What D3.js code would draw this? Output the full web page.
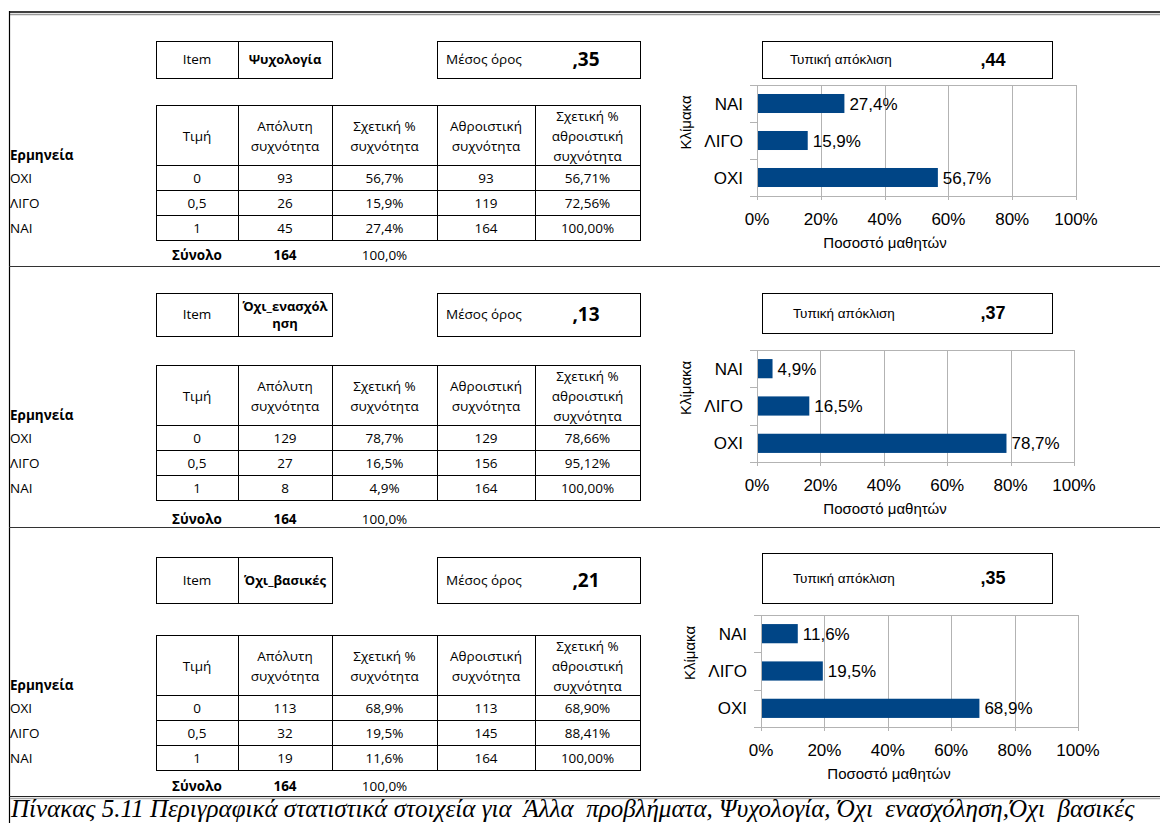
<!DOCTYPE html>
<html>
<head>
<meta charset="utf-8">
<script src="https://cdn.jsdelivr.net/npm/d3@7"></script>
<style>
  html, body { margin: 0; padding: 0; background: #fff; }
  svg { display: block; }
  .tbl { font-family: "Open Sans", "Noto Sans", sans-serif; font-size: 13.5px; fill: #000; }
  .chart { font-family: "Liberation Sans", Arial, sans-serif; fill: #000; }
</style>
</head>
<body>
<script>
// ---- data ----
const categories = ["ΟΧΙ", "ΛΙΓΟ", "ΝΑΙ"];
const scoreLabels = ["0", "0,5", "1"];
const items = ["Ψυχολογία", "Όχι_ενασχόληση", "Όχι_βασικές"];
const means = [",35", ",13", ",21"];
const stdDevs = [",44", ",37", ",35"];
const absFreq = [[93, 26, 45], [129, 27, 8], [113, 32, 19]];
const relPct = [[56.7, 15.9, 27.4], [78.7, 16.5, 4.9], [68.9, 19.5, 11.6]];
const cumFreq = [[93, 119, 164], [129, 156, 164], [113, 145, 164]];
const cumPct = [["56,71%", "72,56%", "100,00%"], ["78,66%", "95,12%", "100,00%"], ["68,90%", "88,41%", "100,00%"]];
const totals = [164, 164, 164];
const totalPct = ["100,0%", "100,0%", "100,0%"];
const headers = [["Τιμή"], ["Απόλυτη", "συχνότητα"], ["Σχετική %", "συχνότητα"], ["Αθροιστική", "συχνότητα"], ["Σχετική %", "αθροιστική", "συχνότητα"]];
const xTicks = [0, 0.2, 0.4, 0.6, 0.8, 1.0];
const caption = "Πίνακας 5.11 Περιγραφικά στατιστικά στοιχεία για  Άλλα  προβλήματα, Ψυχολογία, Όχι  ενασχόληση,Όχι  βασικές";

// ---- layout ----
const W = 1160, H = 823;
const cols = [156, 238, 332, 437, 535, 640];
const sections = [
  { boxY: 41, boxH: 37, sdY: 41, sdH: 37, sdTextX: 790, tableY: 105, hdrH: 60, rowH: 25, totalY: 255,
    plot: { x0: 757, x1: 1076, y0: 85, y1: 196 } },
  { boxY: 293, boxH: 43, sdY: 293, sdH: 40, sdTextX: 793, tableY: 365, hdrH: 60, rowH: 25, totalY: 519,
    plot: { x0: 757, x1: 1074, y0: 350, y1: 462 } },
  { boxY: 557, boxH: 46, sdY: 553, sdH: 50, sdTextX: 793, tableY: 635, hdrH: 60, rowH: 25, totalY: 786,
    plot: { x0: 761, x1: 1078, y0: 615, y1: 727 } }
];
const barColor = "#004586";
const gridColor = "#b3b3b3";

const svg = d3.select("body").append("svg").attr("width", W).attr("height", H);

// page frame
svg.append("line").attr("x1", 9).attr("x2", W).attr("y1", 12).attr("y2", 12).attr("stroke", "#000").attr("stroke-width", 1.5);
svg.append("line").attr("x1", 10).attr("x2", W).attr("y1", 14.5).attr("y2", 14.5).attr("stroke", "#999").attr("stroke-width", 1.5);
svg.append("line").attr("x1", 9.5).attr("x2", 9.5).attr("y1", 11).attr("y2", H).attr("stroke", "#000").attr("stroke-width", 1.2);
[266, 527].forEach(y => {
  svg.append("line").attr("x1", 9).attr("x2", W).attr("y1", y + 0.5).attr("y2", y + 0.5).attr("stroke", "#333").attr("stroke-width", 1);
});
svg.append("line").attr("x1", 9).attr("x2", W).attr("y1", 796.5).attr("y2", 796.5).attr("stroke", "#222").attr("stroke-width", 1);
svg.append("line").attr("x1", 10).attr("x2", W).attr("y1", 798.5).attr("y2", 798.5).attr("stroke", "#aaa").attr("stroke-width", 1.5);

function rect(g, x, y, w, h) {
  g.append("rect").attr("x", x + 0.5).attr("y", y + 0.5).attr("width", w).attr("height", h)
    .attr("fill", "none").attr("stroke", "#000").attr("stroke-width", 1);
}

// bold text wrapped by character inside a fixed width
function wrapText(g, str, cx, cy, maxW, lineH) {
  const t = g.append("text").attr("class", "tbl").attr("text-anchor", "middle")
    .attr("font-weight", "bold").style("font-size", "13px");
  const probe = t.append("tspan").text("");
  const lines = [];
  let cur = "";
  for (const ch of str) {
    probe.text(cur + ch);
    if (probe.node().getComputedTextLength() > maxW && cur.length) { lines.push(cur); cur = ch; }
    else cur += ch;
  }
  lines.push(cur);
  probe.remove();
  const y0 = cy - (lines.length - 1) * lineH / 2;
  lines.forEach((l, i) => t.append("tspan").attr("x", cx).attr("y", y0 + i * lineH).attr("dy", "0.35em").text(l));
}

sections.forEach((s, si) => {
  const g = svg.append("g");

  // Item box
  rect(g, cols[0], s.boxY, cols[2] - cols[0], s.boxH);
  g.append("line").attr("x1", cols[1] + 0.5).attr("x2", cols[1] + 0.5).attr("y1", s.boxY).attr("y2", s.boxY + s.boxH).attr("stroke", "#000");
  g.append("text").attr("class", "tbl").attr("x", (cols[0] + cols[1]) / 2).attr("y", s.boxY + s.boxH / 2).attr("dy", "0.35em")
    .attr("text-anchor", "middle").text("Item");
  wrapText(g, items[si], (cols[1] + cols[2]) / 2, s.boxY + s.boxH / 2, cols[2] - cols[1] - 2, 17);

  // mean box
  rect(g, cols[3], s.boxY, cols[5] - cols[3], s.boxH);
  g.append("text").attr("class", "tbl").attr("x", cols[3] + 9).attr("y", s.boxY + s.boxH / 2).attr("dy", "0.35em").text("Μέσος όρος");
  g.append("text").attr("class", "tbl").attr("x", 586).attr("y", s.boxY + s.boxH / 2).attr("dy", "0.35em")
    .attr("text-anchor", "middle").attr("font-weight", "bold").style("font-size", "19px").text(means[si]);

  // std box
  rect(g, 762, s.sdY, 290, s.sdH);
  g.append("text").attr("class", "chart").attr("x", s.sdTextX).attr("y", s.sdY + s.sdH / 2).attr("dy", "0.35em")
    .style("font-size", "13.5px").text("Τυπική απόκλιση");
  g.append("text").attr("class", "chart").attr("x", 993).attr("y", s.sdY + s.sdH / 2).attr("dy", "0.35em")
    .attr("text-anchor", "middle").attr("font-weight", "bold").style("font-size", "18px").text(stdDevs[si]);

  // frequency table
  const tY = s.tableY, hH = s.hdrH, rH = s.rowH;
  const tBottom = tY + hH + 3 * rH;
  rect(g, cols[0], tY, cols[5] - cols[0], tBottom - tY);
  cols.slice(1, 5).forEach(x => g.append("line").attr("x1", x + 0.5).attr("x2", x + 0.5).attr("y1", tY).attr("y2", tBottom).attr("stroke", "#000"));
  [tY + hH, tY + hH + rH, tY + hH + 2 * rH].forEach(y =>
    g.append("line").attr("x1", cols[0]).attr("x2", cols[5]).attr("y1", y + 0.5).attr("y2", y + 0.5).attr("stroke", "#000"));

  headers.forEach((lines, ci) => {
    const cx = (cols[ci] + cols[ci + 1]) / 2;
    const cy = tY + hH / 2 + 1;
    const t = g.append("text").attr("class", "tbl").attr("text-anchor", "middle");
    lines.forEach((l, li) => t.append("tspan").attr("x", cx).attr("y", cy + (li - (lines.length - 1) / 2) * 20).attr("dy", "0.35em").text(l));
  });

  g.append("text").attr("class", "tbl").attr("x", 10).attr("y", tY + hH - 10).attr("dy", "0.35em")
    .attr("font-weight", "bold").text("Ερμηνεία");

  categories.forEach((c, ri) => {
    const cy = tY + hH + rH * ri + rH / 2 + 1;
    const row = [scoreLabels[ri], absFreq[si][ri], relPct[si][ri].toFixed(1).replace(".", ",") + "%", cumFreq[si][ri], cumPct[si][ri]];
    g.append("text").attr("class", "tbl").attr("x", 10).attr("y", cy).attr("dy", "0.35em").text(c);
    row.forEach((v, ci) => g.append("text").attr("class", "tbl").attr("x", (cols[ci] + cols[ci + 1]) / 2).attr("y", cy)
      .attr("dy", "0.35em").attr("text-anchor", "middle").text(v));
  });

  // totals row
  g.append("text").attr("class", "tbl").attr("x", (cols[0] + cols[1]) / 2).attr("y", s.totalY).attr("dy", "0.35em")
    .attr("text-anchor", "middle").attr("font-weight", "bold").text("Σύνολο");
  g.append("text").attr("class", "tbl").attr("x", (cols[1] + cols[2]) / 2).attr("y", s.totalY).attr("dy", "0.35em")
    .attr("text-anchor", "middle").attr("font-weight", "bold").text(totals[si]);
  g.append("text").attr("class", "tbl").attr("x", (cols[2] + cols[3]) / 2).attr("y", s.totalY).attr("dy", "0.35em")
    .attr("text-anchor", "middle").text(totalPct[si]);

  // bar chart
  const p = s.plot;
  const x = d3.scaleLinear().domain([0, 1]).range([p.x0, p.x1]);
  const y = d3.scaleBand().domain(categories.slice().reverse()).range([p.y0, p.y1]).paddingInner(0.486).paddingOuter(0.243);
  const cg = g.append("g").attr("class", "chart");

  // gridlines and frame
  cg.selectAll(".grid").data(xTicks).join("line")
    .attr("x1", d => Math.round(x(d)) + 0.5).attr("x2", d => Math.round(x(d)) + 0.5)
    .attr("y1", p.y0).attr("y2", p.y1 + 4).attr("stroke", gridColor).attr("stroke-width", 1);
  cg.append("line").attr("x1", p.x0 - 7).attr("x2", p.x1).attr("y1", p.y0 + 0.5).attr("y2", p.y0 + 0.5).attr("stroke", gridColor);
  cg.append("line").attr("x1", p.x0 - 7).attr("x2", p.x1).attr("y1", p.y1 + 0.5).attr("y2", p.y1 + 0.5).attr("stroke", gridColor);
  const step = y.step();
  [1, 2].forEach(i => cg.append("line").attr("x1", p.x0 - 7).attr("x2", p.x0)
    .attr("y1", Math.round(p.y0 + step * i) + 0.5).attr("y2", Math.round(p.y0 + step * i) + 0.5).attr("stroke", gridColor));

  // bars
  cg.selectAll(".bar").data(categories.map((c, i) => ({ c, v: relPct[si][i] / 100 }))).join("rect")
    .attr("x", p.x0 + 1).attr("y", d => y(d.c)).attr("width", d => x(d.v) - p.x0 - 1).attr("height", y.bandwidth())
    .attr("fill", barColor);

  // value labels
  cg.selectAll(".val").data(categories.map((c, i) => ({ c, v: relPct[si][i] }))).join("text")
    .attr("x", d => x(d.v / 100) + 5).attr("y", d => y(d.c) + y.bandwidth() / 2).attr("dy", "0.36em")
    .style("font-size", "17px").text(d => d.v.toFixed(1).replace(".", ",") + "%");

  // category labels
  cg.selectAll(".cat").data(categories).join("text")
    .attr("x", p.x0 - 14).attr("y", d => y(d) + y.bandwidth() / 2).attr("dy", "0.36em")
    .attr("text-anchor", "end").style("font-size", "17px").text(d => d);

  // x tick labels
  cg.selectAll(".tick").data(xTicks).join("text")
    .attr("x", d => x(d)).attr("y", p.y1 + 29).attr("text-anchor", "middle").style("font-size", "17px")
    .text(d => d3.format(".0%")(d));

  cg.append("text").attr("x", p.x0 + 128).attr("y", p.y1 + 52).attr("text-anchor", "middle")
    .style("font-size", "15px").text("Ποσοστό μαθητών");
  cg.append("text").attr("transform", `translate(${p.x0 - 66},${(p.y0 + p.y1) / 2 - 18}) rotate(-90)`)
    .attr("text-anchor", "middle").style("font-size", "15px").text("Κλίμακα");
});

// caption
svg.append("text").attr("x", 11).attr("y", 817)
  .style("font-family", "'Liberation Serif', 'Times New Roman', serif").style("font-style", "italic")
  .style("font-size", "25px").style("white-space", "pre").attr("xml:space", "preserve").text(caption);
</script>
</body>
</html>
